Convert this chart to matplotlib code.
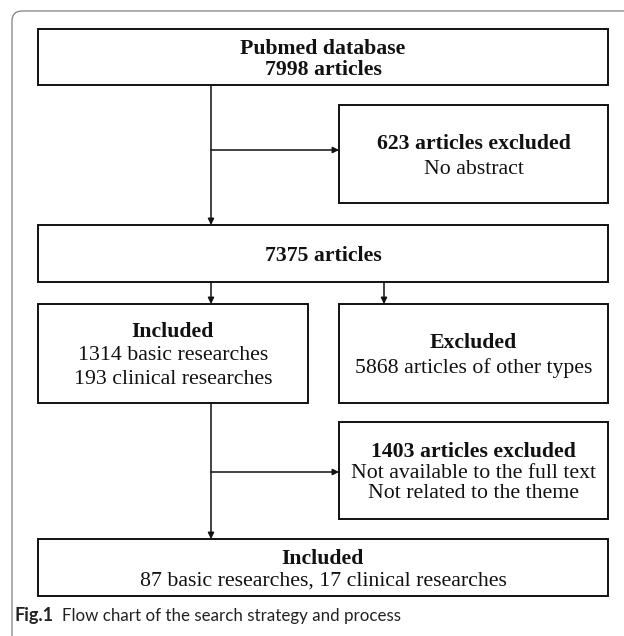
import matplotlib
matplotlib.use( 'Agg' )
import matplotlib.pyplot as plt
from matplotlib.patches import Rectangle, PathPatch
from matplotlib.path import Path

# box texts: bold lines first, then regular lines
bold_lines = [
    [ 'Pubmed database', '7998 articles' ],
    [ '623 articles excluded' ],
    [ '7375 articles' ],
    [ 'Included' ],
    [ 'Excluded' ],
    [ '1403 articles excluded' ],
    [ 'Included' ],
]
plain_lines = [
    [],
    [ 'No abstract' ],
    [],
    [ '1314 basic researches', '193 clinical researches' ],
    [ '5868 articles of other types' ],
    [ 'Not available to the full text', 'Not related to the theme' ],
    [ '87 basic researches, 17 clinical researches' ],
]
caption_label = 'Fig.1'
caption_text = 'Flow chart of the search strategy and process'

# layout in pixels (x0, y0, x1, y1), y going down
boxes = [
    ( 38, 29, 608, 85 ),
    ( 339, 105, 608, 203 ),
    ( 38, 225, 608, 282 ),
    ( 38, 304, 308, 403 ),
    ( 339, 304, 608, 403 ),
    ( 339, 422, 608, 519 ),
    ( 38, 539, 608, 596 ),
]
arrows = [
    ( ( 211, 85 ), ( 211, 225 ) ),
    ( ( 211, 150 ), ( 339, 150 ) ),
    ( ( 211, 282 ), ( 211, 304 ) ),
    ( ( 384, 282 ), ( 384, 304 ) ),
    ( ( 211, 403 ), ( 211, 539 ) ),
    ( ( 211, 472 ), ( 339, 472 ) ),
]
line_gap = [ 21, 25, 0, 24, 25, 21, 23 ]

W, H = 624, 636
fig = plt.figure( figsize = ( W / 100, H / 100 ), dpi = 100 )
ax = fig.add_axes( [ 0, 0, 1, 1 ] )
ax.set_xlim( 0, W )
ax.set_ylim( H, 0 )
ax.axis( 'off' )

# outer frame with rounded top-left corner
r = 10
verts = [ ( 12, H ), ( 12, 11 + r ), ( 12, 11 ), ( 12 + r, 11 ), ( W, 11 ) ]
codes = [ Path.MOVETO, Path.LINETO, Path.CURVE3, Path.CURVE3, Path.LINETO ]
ax.add_patch( PathPatch( Path( verts, codes ), fill = False, edgecolor = '#808080', lw = 0.9 ) )

serif = 'Liberation Serif'
fs = 15.7
for i, ( x0, y0, x1, y1 ) in enumerate( boxes ) :
    ax.add_patch( Rectangle( ( x0, y0 ), x1 - x0, y1 - y0, fill = False,
                             edgecolor = '#111111', lw = 1.4 ) )
    lines = [ ( t, 'bold' ) for t in bold_lines[ i ] ] + [ ( t, 'normal' ) for t in plain_lines[ i ] ]
    n = len( lines )
    cx = ( x0 + x1 ) / 2
    cy = ( y0 + y1 ) / 2
    for k, ( t, w ) in enumerate( lines ) :
        y = cy + ( k - ( n - 1 ) / 2 ) * line_gap[ i ]
        ax.text( cx, y, t, ha = 'center', va = 'center_baseline', fontsize = fs,
                 fontweight = w, family = serif, color = '#111111' )

for ( p0, p1 ) in arrows :
    ax.annotate( '', xy = p1, xytext = p0,
                 arrowprops = dict( arrowstyle = '-|>', color = '#111111', lw = 1.1,
                                    mutation_scale = 9, shrinkA = 0, shrinkB = 0 ) )

ax.text( 15, 616, caption_label, ha = 'left', va = 'center', fontsize = 13,
         fontweight = 'bold', family = 'Lato', color = '#222222' )
ax.text( 62, 616, caption_text, ha = 'left', va = 'center', fontsize = 12.2,
         family = 'Lato', color = '#222222' )

fig.savefig( 'out.png', dpi = 100 )
